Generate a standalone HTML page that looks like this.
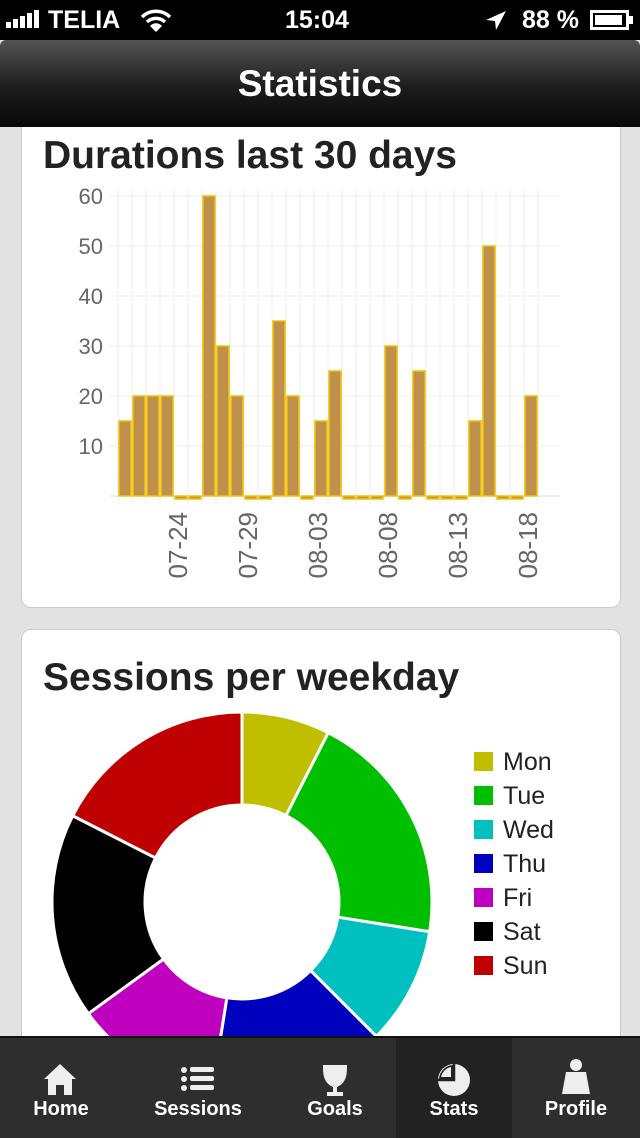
<!DOCTYPE html>
<html><head><meta charset="utf-8"><style>
body{margin:0;width:640px;height:1136px;overflow:hidden;background:#e2e2e2;font-family:"Liberation Sans",sans-serif;position:relative}
.abs{position:absolute}
</style></head><body>
<div class="abs" style="left:21px;top:110px;width:598px;height:496px;background:#fff;border:1px solid #ccc;border-radius:10px"></div>
<div class="abs" style="left:43px;top:134px;font-size:39px;font-weight:bold;color:#222">Durations last 30 days</div>
<svg class="abs" style="left:0;top:0" width="640" height="620" id="bar"></svg>

<div class="abs" style="left:21px;top:629px;width:598px;height:500px;background:#fff;border:1px solid #ccc;border-radius:10px"></div>
<div class="abs" style="left:43px;top:656px;font-size:39px;font-weight:bold;color:#222">Sessions per weekday</div>
<svg class="abs" style="left:0;top:0" width="640" height="1036" id="pie"></svg>

<div class="abs" style="left:0;top:0;width:640px;height:40px;background:#000;color:#fff;font-weight:bold;font-size:25px">
 <svg class="abs" style="left:6px;top:10px" width="40" height="20"><rect x="0" y="12" width="5" height="6" fill="#fff"/><rect x="7" y="9" width="5" height="9" fill="#fff"/><rect x="14" y="6" width="5" height="12" fill="#fff"/><rect x="21" y="3" width="5" height="15" fill="#fff"/><rect x="28" y="0" width="5" height="18" fill="#fff"/></svg>
 <span class="abs" style="left:48px;top:6px">TELIA</span>
 <svg class="abs" style="left:140px;top:8px" width="32" height="24"><path d="M2 9 A20 20 0 0 1 30 9" stroke="#fff" stroke-width="3.5" fill="none"/><path d="M7 14 A13 13 0 0 1 25 14" stroke="#fff" stroke-width="3.5" fill="none"/><path d="M16 24 L10 18 A8 8 0 0 1 22 18Z" fill="#fff"/></svg>
 <span class="abs" style="left:285px;top:6px">15:04</span>
 <svg class="abs" style="left:484px;top:10px" width="24" height="22"><path d="M22 1 L2 10 L11 11 L12 20Z" fill="#fff"/></svg>
 <span class="abs" style="left:522px;top:6px">88 %</span>
 <svg class="abs" style="left:590px;top:10px" width="44" height="20"><rect x="1.5" y="1.5" width="36" height="17" fill="none" stroke="#fff" stroke-width="3"/><rect x="5" y="5" width="27" height="10" fill="#fff"/><rect x="39" y="6" width="4" height="8" fill="#fff"/></svg>
</div>
<div class="abs" style="left:0;top:40px;width:640px;height:87px;background:linear-gradient(#545454,#1c1c1c 55%,#080808);border-radius:6px 6px 0 0;color:#fff;font-weight:bold;font-size:37px;text-align:center;line-height:87px">
 <span>Statistics</span></div>

<div class="abs" style="left:0;top:1036px;width:640px;height:100px;background:#2e2e2e;border-top:2px solid #111;color:#fff;font-weight:bold;font-size:20px">
 <div class="abs" style="left:0;top:0;width:122px;height:100px;text-align:center">
  <svg class="abs" style="left:42px;top:22px" width="36" height="36"><path d="M18 4 L34 19 L30 19 L30 35 L22 35 L22 25 L14 25 L14 35 L6 35 L6 19 L2 19Z" fill="#eee"/></svg>
  <div class="abs" style="left:0;width:122px;top:60px">Home</div></div>
 <div class="abs" style="left:122px;top:0;width:152px;height:100px;text-align:center">
  <svg class="abs" style="left:58px;top:28px" width="36" height="30"><circle cx="4" cy="4" r="3" fill="#eee"/><circle cx="4" cy="13" r="3" fill="#eee"/><circle cx="4" cy="22" r="3" fill="#eee"/><rect x="10" y="1" width="24" height="5" rx="2" fill="#eee"/><rect x="10" y="10" width="24" height="5" rx="2" fill="#eee"/><rect x="10" y="19" width="24" height="5" rx="2" fill="#eee"/></svg>
  <div class="abs" style="left:0;width:152px;top:60px">Sessions</div></div>
 <div class="abs" style="left:274px;top:0;width:122px;height:100px;text-align:center">
  <svg class="abs" style="left:45px;top:24px" width="32" height="36"><path d="M4 3 H28 V6 C28 20 22 23 18 25 V30 H24 V34 H8 V30 H14 V25 C10 23 4 20 4 6Z" fill="#eee"/></svg>
  <div class="abs" style="left:0;width:122px;top:60px">Goals</div></div>
 <div class="abs" style="left:396px;top:0;width:116px;height:100px;text-align:center;background:#222">
  <svg class="abs" style="left:40px;top:24px" width="36" height="36"><circle cx="18" cy="18" r="16" fill="#eee"/><path d="M18 2 V18 H2" stroke="#222" stroke-width="2.5" fill="none"/><path d="M17 3 A15 15 0 0 0 3 17 H17Z" fill="#222"/><path d="M15 5 A13 13 0 0 0 5 15 H15Z" fill="#eee"/></svg>
  <div class="abs" style="left:0;width:116px;top:60px">Stats</div></div>
 <div class="abs" style="left:512px;top:0;width:128px;height:100px;text-align:center">
  <svg class="abs" style="left:48px;top:20px" width="32" height="40"><circle cx="16" cy="7" r="6" fill="#eee"/><path d="M6 14 H26 L30 36 H2Z" fill="#eee"/></svg>
  <div class="abs" style="left:0;width:128px;top:60px">Profile</div></div>
</div>

<script>
const NS="http://www.w3.org/2000/svg";
function mk(p,t,a){const e=document.createElementNS(NS,t);for(const k in a)e.setAttribute(k,a[k]);p.appendChild(e);return e;}
// bar chart data
const days=["07-20","07-21","07-22","07-23","07-24","07-25","07-26","07-27","07-28","07-29","07-30","07-31","08-01","08-02","08-03","08-04","08-05","08-06","08-07","08-08","08-09","08-10","08-11","08-12","08-13","08-14","08-15","08-16","08-17","08-18"];
const durations=[15,20,20,20,0,0,60,30,20,0,0,35,20,0,15,25,0,0,0,30,0,25,0,0,0,15,50,0,0,20];
const yTicks=[10,20,30,40,50,60];
const xLabels=["07-24","07-29","08-03","08-08","08-13","08-18"];
const bar=document.getElementById('bar');
const x0=118,step=14,yBase=496,yScale=5;
const xs=i=>x0+i*step, ys=v=>yBase-v*yScale;
for(let i=0;i<=30;i++){const l=mk(bar,'line',{x1:xs(i),x2:xs(i),y1:190,y2:504,stroke:'#eee','stroke-width':1});
}
yTicks.forEach(t=>{const l=mk(bar,'line',{x1:110,x2:560,y1:ys(t),y2:ys(t),stroke:'#eee'});

const tx=mk(bar,'text',{x:103,y:ys(t)+8,'text-anchor':'end','font-size':22,fill:'#666','font-family':'Liberation Sans'});tx.textContent=t;
});
const bl=mk(bar,'line',{x1:110,x2:560,y1:yBase,y2:yBase,stroke:'#ddd'});

durations.forEach((v,i)=>{const h=v>0?v*yScale:3;const y=v>0?ys(v):yBase;
const r=mk(bar,'rect',{x:xs(i)+1,y:y,width:step-2,height:h,fill:'#bf914d',stroke:'#f2c200','stroke-width':1.5});
});
xLabels.forEach(lb=>{const i=days.indexOf(lb);const cx=xs(i)+step/2-3;
const t=mk(bar,'text',{x:0,y:0,transform:`translate(${cx+9},512) rotate(-90)`,'text-anchor':'end','font-size':26,fill:'#666','font-family':'Liberation Sans'});t.textContent=lb;
});
// donut
const weekdays=["Mon","Tue","Wed","Thu","Fri","Sat","Sun"];
const sessions=[3,8,4,6,5,7,7];
const colors=["#bfbf00","#00bf00","#00bfbf","#0000bf","#bf00bf","#000000","#bf0000"];
const pie=document.getElementById('pie');
const cx=242,cy=902,R=190,r0=97;
const total=sessions.reduce((a,b)=>a+b,0);
let a=0;
const pt=(rad,ang)=>[cx+rad*Math.sin(ang),cy-rad*Math.cos(ang)];
sessions.forEach((v,i)=>{const a1=a+v/total*2*Math.PI;const lg=(a1-a)>Math.PI?1:0;
const [x1,y1]=pt(R,a),[x2,y2]=pt(R,a1),[x3,y3]=pt(r0,a1),[x4,y4]=pt(r0,a);
const p=mk(pie,'path',{d:`M${x1} ${y1} A${R} ${R} 0 ${lg} 1 ${x2} ${y2} L${x3} ${y3} A${r0} ${r0} 0 ${lg} 0 ${x4} ${y4}Z`,fill:colors[i],stroke:'#fff','stroke-width':3});

a=a1;
const ly=752+i*34;
const sw=mk(pie,'rect',{x:474,y:ly,width:19,height:19,fill:colors[i]});

const t=mk(pie,'text',{x:503,y:ly+18,'font-size':25,fill:'#222','font-family':'Liberation Sans'});t.textContent=weekdays[i];
});
</script>
</body></html>
